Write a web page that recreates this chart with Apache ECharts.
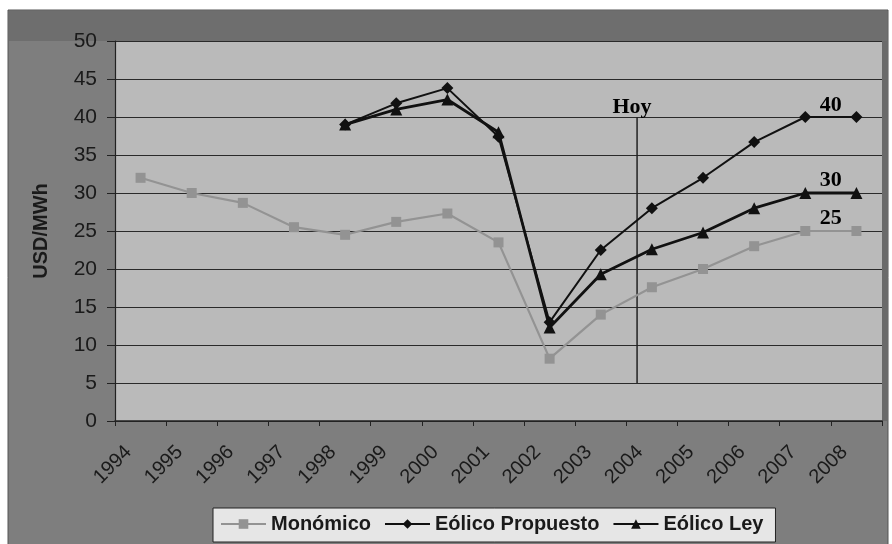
<!DOCTYPE html>
<html><head><meta charset="utf-8">
<script src="https://cdn.jsdelivr.net/npm/echarts@6/dist/echarts.min.js"></script>
<style>html,body{margin:0;padding:0;background:#fff}#c{width:892px;height:544px}</style>
</head><body><div id="c"></div>
<script>
const years = ['1994','1995','1996','1997','1998','1999','2000','2001','2002','2003','2004','2005','2006','2007','2008'];
const monomico = [32,30,28.7,25.5,24.5,26.2,27.3,23.5,8.2,14,17.6,20,23,25,25];
const eolicoPropuesto = [null,null,null,null,39,41.8,43.8,37.4,13,22.5,28,32,36.7,40,40];
const eolicoLey = [null,null,null,null,39,41,42.3,38,12.3,19.3,22.6,24.8,28,30,30];
const yTicks = [0,5,10,15,20,25,30,35,40,45,50];
const hoyLine = [[9.71,5],[9.71,40]];
const annotTexts = ['Hoy','40','30','25'];
const annotX = [9.61,13.5,13.5,13.5];
const annotY = [41.3,41.6,31.7,26.7];

const chart = echarts.init(document.getElementById('c'));
const axisFont = {fontFamily:'Liberation Sans, Arial', color:'#1a1a1a'};
chart.setOption({
  backgroundColor:'#ffffff',
  animation:false,
  graphic:[
    {id:'frame', type:'rect', z:-10, shape:{x:8,y:10,width:880,height:540}, style:{fill:'#7e7e7e', stroke:'#555', lineWidth:1}},
    {id:'topband', type:'rect', z:-9, shape:{x:9,y:11,width:878,height:30}, style:{fill:'#6e6e6e'}},
    {id:'rightband', type:'rect', z:-9, shape:{x:882,y:41,width:6,height:380}, style:{fill:'#6a6a6a'}}
  ],
  grid:{left:115, right:10, top:41, bottom:123, show:true, backgroundColor:'#bababa', borderWidth:0},
  legend:{
    left:213, top:508, itemGap:13, padding:[6,12,8,7],
    backgroundColor:'#e6e6e6', borderColor:'#222', borderWidth:1,
    itemWidth:45, itemHeight:12,
    textStyle:{fontFamily:'Liberation Sans, Arial', fontWeight:'bold', fontSize:20, color:'#1a1a1a'},
    data:['Monómico','Eólico Propuesto','Eólico Ley']
  },
  xAxis:[
    {type:'category', data:years, boundaryGap:true,
     axisLine:{lineStyle:{color:'#222', width:1.5}},
     axisTick:{show:true, alignWithLabel:false, length:5, lineStyle:{color:'#222'}},
     axisLabel:{...axisFont, fontSize:20, rotate:45, margin:16, interval:0, padding:[0,17,0,0]}},
    {type:'value', min:-0.5, max:14.5, show:false}
  ],
  yAxis:{
    type:'value', min:0, max:50, interval:5,
    name:'USD/MWh', nameLocation:'middle', nameGap:64,
    nameTextStyle:{fontFamily:'Liberation Sans, Arial', fontWeight:'bold', fontSize:20, color:'#1a1a1a'},
    axisLine:{show:true, onZero:false, lineStyle:{color:'#222', width:1.2}},
    axisTick:{show:true, length:8, lineStyle:{color:'#222'}},
    axisLabel:{...axisFont, fontSize:21, margin:18, formatter:v=>yTicks.includes(v)?String(v):''},
    splitLine:{show:true, lineStyle:{color:'#2a2a2a', width:1.2}}
  },
  series:[
    {name:'Monómico', type:'line', data:monomico, symbol:'rect', symbolSize:10,
     lineStyle:{color:'#939393', width:2.2}, itemStyle:{color:'#939393'}, z:2},
    {name:'Eólico Propuesto', type:'line', data:eolicoPropuesto, symbol:'diamond', symbolSize:12,
     lineStyle:{color:'#111', width:2}, itemStyle:{color:'#111'}, z:3},
    {name:'Eólico Ley', type:'line', data:eolicoLey, symbol:'triangle', symbolSize:12,
     lineStyle:{color:'#111', width:2.8}, itemStyle:{color:'#111'}, z:4},
    {type:'line', xAxisIndex:1, data:hoyLine, symbol:'none', lineStyle:{color:'#222', width:1.5}, silent:true, z:1}
  ]
});
const annotGraphics = annotTexts.map((t,i)=>{
  const p = chart.convertToPixel({xAxisIndex:1, yAxisIndex:0}, [annotX[i], annotY[i]]);
  return {id:'annot'+i, type:'text', z:100, x:p[0], y:p[1],
    style:{text:t, fill:'#000', align:'center', verticalAlign:'middle',
      font:'bold 22px "Liberation Serif", "Times New Roman", serif'}};
});
chart.setOption({graphic:annotGraphics});
</script></body></html>
